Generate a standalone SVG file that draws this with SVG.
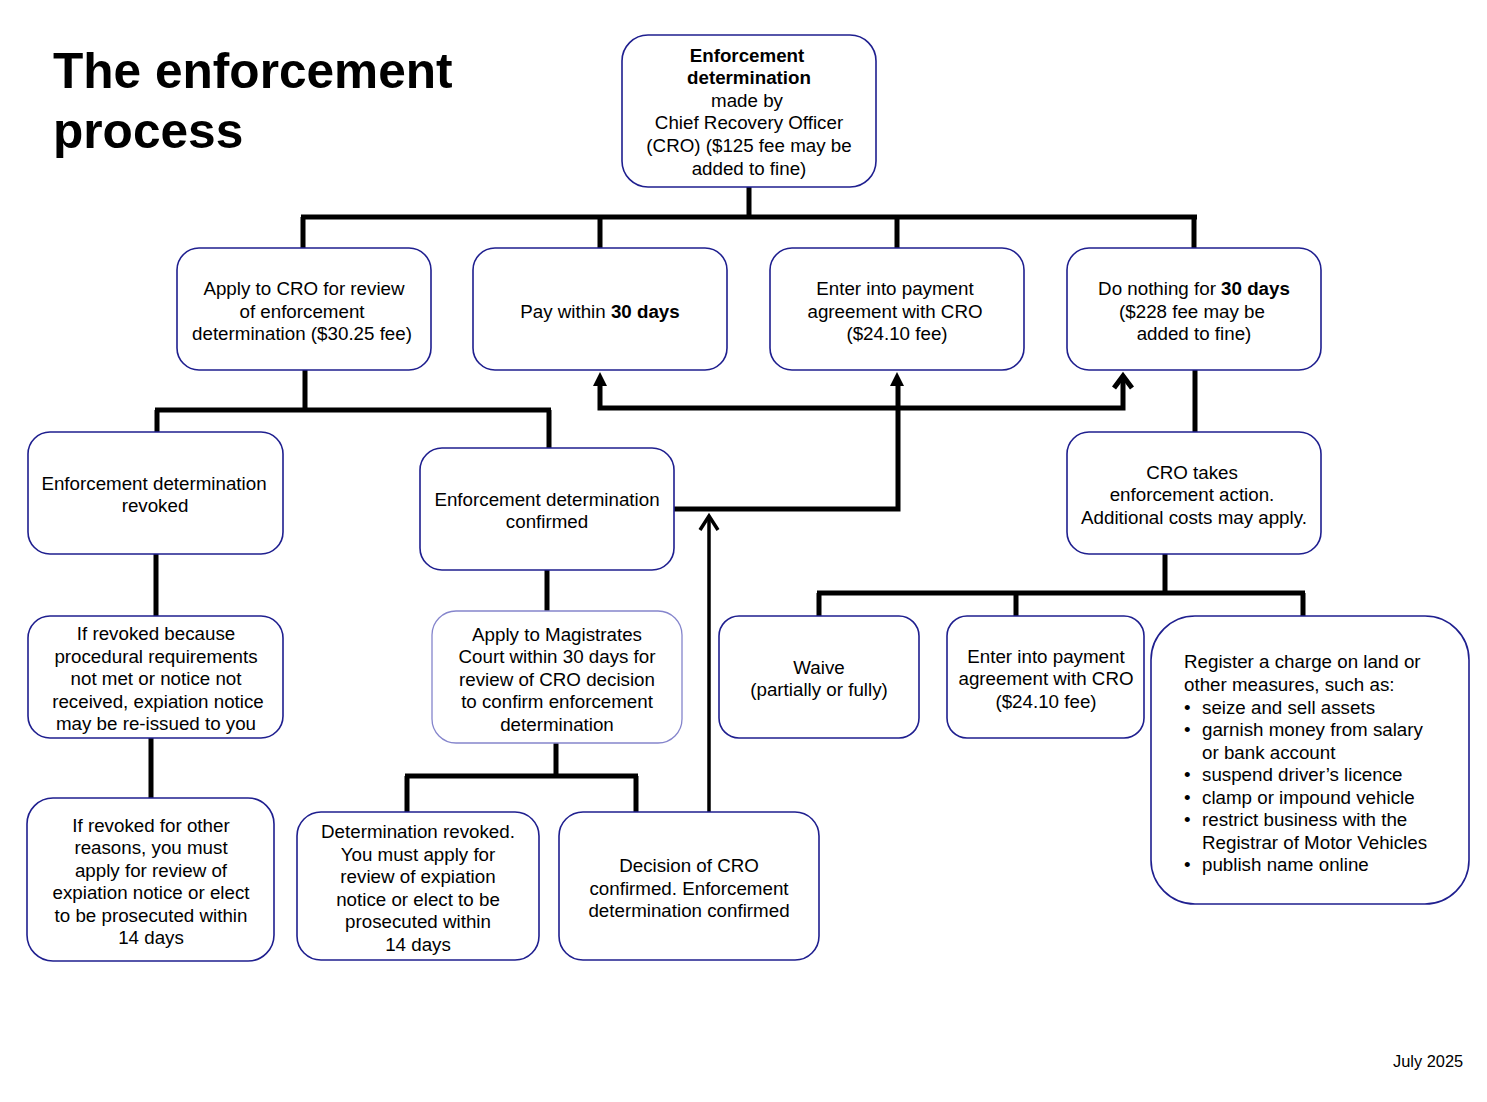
<svg xmlns="http://www.w3.org/2000/svg" width="1487" height="1102" viewBox="0 0 1487 1102">
<style>
.n{fill:#fff;stroke:#1f1f8f;stroke-width:1.6}
.nl{fill:#fff;stroke:#8585cc;stroke-width:1.3}
text{font-family:"Liberation Sans",Arial,sans-serif;font-size:18.75px;fill:#000}
.c{text-anchor:middle}
.b{font-weight:bold}
.w{fill:none;stroke:#000;stroke-width:5;stroke-linecap:butt;stroke-linejoin:miter}
.t{fill:none;stroke:#000;stroke-width:3.5}
</style>
<rect width="1487" height="1102" fill="#fff"/>
<text x="53" y="88" class="b" style="font-size:49.6px">The enforcement</text>
<text x="53" y="148" class="b" style="font-size:49.6px">process</text>
<text x="1393" y="1067" style="font-size:16.4px">July 2025</text>

<g id="connectors">
<path class="w" d="M749,187 V217 M301,217 H1197 M303,217 V248 M600,217 V248 M897,217 V248 M1194,217 V248"/>
<path class="w" d="M305,370 V410 M155,410 H551 M157,410 V432 M549,410 V448"/>
<path class="w" d="M674,509 H898 V386"/>
<path d="M890,386 L897,372 L904,386 Z"/>
<path class="w" d="M600,386 V408 H1123 V380"/>
<path d="M593,386 L600,372 L607,386 Z"/>
<path class="w" d="M1114,388 L1123,376 L1132,388"/>
<path class="w" d="M1195,370 V432"/>
<path class="w" d="M1165,550 V593 M817,593 H1305 M819,593 V616 M1016,593 V616 M1303,593 V616"/>
<path class="w" d="M156,554 V616 M151,738 V798"/>
<path class="w" d="M547,570 V611"/>
<path class="w" d="M556,743 V776 M405,776 H638 M407,776 V812 M636,776 V812"/>
<path class="t" d="M709,812 V517"/>
<path class="t" d="M700,530 L709,516 L718,530"/>
</g>

<g id="n-top">
<rect class="n" x="622" y="35" width="254" height="152" rx="26"/>
<text class="c b" x="747" y="62">Enforcement</text>
<text class="c b" x="749" y="84">determination</text>
<text class="c" x="747" y="107">made by</text>
<text class="c" x="749" y="129">Chief Recovery Officer</text>
<text class="c" x="749" y="152">(CRO) ($125 fee may be</text>
<text class="c" x="749" y="175">added to fine)</text>
</g>

<g id="n-apply">
<rect class="n" x="177" y="248" width="254" height="122" rx="22"/>
<text class="c" x="304" y="295">Apply to CRO for review</text>
<text class="c" x="302" y="318">of enforcement</text>
<text class="c" x="302" y="340">determination ($30.25 fee)</text>
</g>

<g id="n-pay">
<rect class="n" x="473" y="248" width="254" height="122" rx="22"/>
<text class="c" x="600" y="318">Pay within <tspan class="b">30 days</tspan></text>
</g>

<g id="n-enter">
<rect class="n" x="770" y="248" width="254" height="122" rx="22"/>
<text class="c" x="895" y="295">Enter into payment</text>
<text class="c" x="895" y="318">agreement with CRO</text>
<text class="c" x="897" y="340">($24.10 fee)</text>
</g>

<g id="n-nothing">
<rect class="n" x="1067" y="248" width="254" height="122" rx="22"/>
<text class="c" x="1194" y="295">Do nothing for <tspan class="b">30 days</tspan></text>
<text class="c" x="1192" y="318">($228 fee may be</text>
<text class="c" x="1194" y="340">added to fine)</text>
</g>

<g id="n-revoked">
<rect class="n" x="28" y="432" width="255" height="122" rx="22"/>
<text class="c" x="154" y="490">Enforcement determination</text>
<text class="c" x="155" y="512">revoked</text>
</g>

<g id="n-confirmed">
<rect class="n" x="420" y="448" width="254" height="122" rx="22"/>
<text class="c" x="547" y="506">Enforcement determination</text>
<text class="c" x="547" y="528">confirmed</text>
</g>

<g id="n-cro-action">
<rect class="n" x="1067" y="432" width="254" height="122" rx="22"/>
<text class="c" x="1192" y="479">CRO takes</text>
<text class="c" x="1192" y="501">enforcement action.</text>
<text class="c" x="1194" y="524">Additional costs may apply.</text>
</g>

<g id="n-procedural">
<rect class="n" x="28" y="616" width="255" height="122" rx="22"/>
<text class="c" x="156" y="640">If revoked because</text>
<text class="c" x="156" y="663">procedural requirements</text>
<text class="c" x="156" y="685">not met or notice not</text>
<text class="c" x="158" y="708">received, expiation notice</text>
<text class="c" x="156" y="730">may be re-issued to you</text>
</g>

<g id="n-magistrates">
<rect class="nl" x="432" y="611" width="250" height="132" rx="24"/>
<text class="c" x="557" y="641">Apply to Magistrates</text>
<text class="c" x="557" y="663">Court within 30 days for</text>
<text class="c" x="557" y="686">review of CRO decision</text>
<text class="c" x="557" y="708">to confirm enforcement</text>
<text class="c" x="557" y="731">determination</text>
</g>

<g id="n-waive">
<rect class="n" x="719" y="616" width="200" height="122" rx="20"/>
<text class="c" x="819" y="674">Waive</text>
<text class="c" x="819" y="696">(partially or fully)</text>
</g>

<g id="n-enter2">
<rect class="n" x="947" y="616" width="197" height="122" rx="20"/>
<text class="c" x="1046" y="663">Enter into payment</text>
<text class="c" x="1046" y="685">agreement with CRO</text>
<text class="c" x="1046" y="708">($24.10 fee)</text>
</g>

<g id="n-register">
<rect class="n" x="1151" y="616" width="318" height="288" rx="44"/>
<text x="1184" y="668">Register a charge on land or</text>
<text x="1184" y="691">other measures, such as:</text>
<text x="1184" y="714">•</text><text x="1202" y="714">seize and sell assets</text>
<text x="1184" y="736">•</text><text x="1202" y="736">garnish money from salary</text>
<text x="1202" y="759">or bank account</text>
<text x="1184" y="781">•</text><text x="1202" y="781">suspend driver’s licence</text>
<text x="1184" y="804">•</text><text x="1202" y="804">clamp or impound vehicle</text>
<text x="1184" y="826">•</text><text x="1202" y="826">restrict business with the</text>
<text x="1202" y="849">Registrar of Motor Vehicles</text>
<text x="1184" y="871">•</text><text x="1202" y="871">publish name online</text>
</g>

<g id="n-other">
<rect class="n" x="27" y="798" width="247" height="163" rx="26"/>
<text class="c" x="151" y="832">If revoked for other</text>
<text class="c" x="151" y="854">reasons, you must</text>
<text class="c" x="151" y="877">apply for review of</text>
<text class="c" x="151" y="899">expiation notice or elect</text>
<text class="c" x="151" y="922">to be prosecuted within</text>
<text class="c" x="151" y="944">14 days</text>
</g>

<g id="n-det-revoked">
<rect class="n" x="297" y="812" width="242" height="148" rx="24"/>
<text class="c" x="418" y="838">Determination revoked.</text>
<text class="c" x="418" y="861">You must apply for</text>
<text class="c" x="418" y="883">review of expiation</text>
<text class="c" x="418" y="906">notice or elect to be</text>
<text class="c" x="418" y="928">prosecuted within</text>
<text class="c" x="418" y="951">14 days</text>
</g>

<g id="n-decision">
<rect class="n" x="559" y="812" width="260" height="148" rx="24"/>
<text class="c" x="689" y="872">Decision of CRO</text>
<text class="c" x="689" y="895">confirmed. Enforcement</text>
<text class="c" x="689" y="917">determination confirmed</text>
</g>
</svg>
